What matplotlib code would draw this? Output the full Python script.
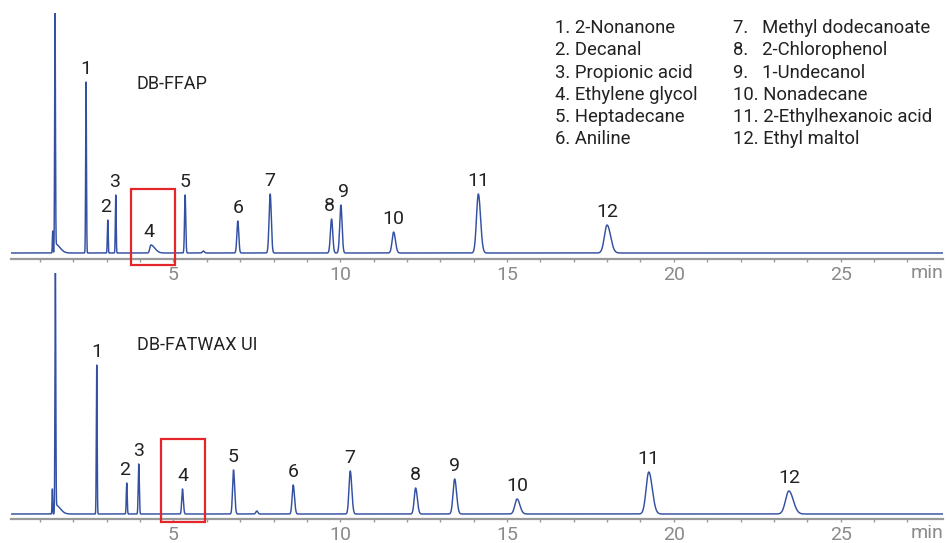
import matplotlib
matplotlib.use("Agg")
import matplotlib.pyplot as plt
import numpy as np
from matplotlib.patches import Rectangle

plt.rcParams["font.family"] = ["Roboto", "DejaVu Sans"]

# ---- peak tables (retention time in min, height in detector units) ----------
compounds = [
    "2-Nonanone", "Decanal", "Propionic acid", "Ethylene glycol",
    "Heptadecane", "Aniline", "Methyl dodecanoate", "2-Chlorophenol",
    "1-Undecanol", "Nonadecane", "2-Ethylhexanoic acid", "Ethyl maltol",
]
peak_ids = ["1", "2", "3", "4", "5", "6", "7", "8", "9", "10", "11", "12"]

ffap_rt = [2.38, 3.03, 3.27, 4.32, 5.35, 6.93, 7.90, 9.74, 10.02, 11.60, 14.14, 18.00]
ffap_height = [171, 33, 58, 8, 58, 32, 59, 34, 48, 21, 59, 28]
ffap_sigma = [0.012, 0.012, 0.012, 0.03, 0.018, 0.028, 0.033, 0.035, 0.035, 0.045, 0.055, 0.08]
ffap_tail = [1.0, 1.0, 1.0, 4.0, 1.0, 1.0, 1.0, 1.0, 1.0, 1.2, 1.2, 1.3]

fatwax_rt = [2.70, 3.60, 3.96, 5.27, 6.80, 8.59, 10.30, 12.26, 13.43, 15.30, 19.25, 23.45]
fatwax_height = [149, 31, 50, 25, 44, 29, 43, 26, 35, 15, 42, 23]
fatwax_sigma = [0.012, 0.014, 0.016, 0.022, 0.028, 0.032, 0.038, 0.042, 0.048, 0.065, 0.08, 0.1]
fatwax_tail = [1.0, 1.0, 1.0, 1.2, 1.2, 1.2, 1.2, 1.2, 1.2, 1.3, 1.3, 1.3]

# solvent front, its shoulder/tail and minor unlabelled bumps
ffap_extra_rt = [1.45, 1.38, 1.46, 5.90]
ffap_extra_height = [240, 22, 9, 2]
ffap_extra_sigma = [0.012, 0.01, 0.015, 0.03]
ffap_extra_tail = [1.0, 1.0, 9.0, 1.0]

fatwax_extra_rt = [1.46, 1.37, 1.47, 7.50]
fatwax_extra_height = [245, 25, 9, 3]
fatwax_extra_sigma = [0.012, 0.01, 0.015, 0.03]
fatwax_extra_tail = [1.0, 1.0, 9.0, 1.0]

T_MIN, T_MAX = 0.13, 28.07
LINE = "#3350a2"
GREY = "#8a8a8a"


def trace(t, rts, heights, sigmas, tails):
    y = np.zeros_like(t)
    for rt, h, s, k in zip(rts, heights, sigmas, tails):
        sd = np.where(t < rt, s, s * k)
        y += h * np.exp(-0.5 * ((t - rt) / sd) ** 2)
    return y


t = np.linspace(T_MIN, T_MAX, 30000)

fig = plt.figure(figsize=(9.47, 5.43), dpi=100)
ax_top = fig.add_axes([11 / 947, 1 - 259 / 543, 932 / 947, 246 / 543])
ax_bot = fig.add_axes([11 / 947, 1 - 519 / 543, 932 / 947, 246 / 543])
ax_bot.patch.set_alpha(0)

panels = [
    (ax_top, "DB-FFAP", -6, 240,
     (ffap_rt, ffap_height, ffap_sigma, ffap_tail),
     (ffap_extra_rt, ffap_extra_height, ffap_extra_sigma, ffap_extra_tail),
     {"8": -2, "9": 3, "2": -2, "3": -1, "4": -2},
     (3.72, 5.04, -12, 64)),
    (ax_bot, "DB-FATWAX UI", -5, 241,
     (fatwax_rt, fatwax_height, fatwax_sigma, fatwax_tail),
     (fatwax_extra_rt, fatwax_extra_height, fatwax_extra_sigma, fatwax_extra_tail),
     {"2": -2},
     (4.62, 5.94, -8, 75)),
]

for ax, name, y0, y1, peaks, extra, nudge, box in panels:
    y = trace(t, *peaks) + trace(t, *extra)
    ax.plot(t, y, color=LINE, lw=1.05)
    ax.set_xlim(T_MIN, T_MAX)
    ax.set_ylim(y0, y1)

    for sp in ("left", "right", "top"):
        ax.spines[sp].set_visible(False)
    ax.spines["bottom"].set_color("#9a9a9a")
    ax.spines["bottom"].set_linewidth(1.6)
    ax.set_yticks([])
    ax.set_xticks([5, 10, 15, 20, 25])
    ax.set_xticks(np.arange(1, 28), minor=True)
    ax.tick_params(axis="x", which="both", direction="out", length=2.5,
                   width=1, color="#9a9a9a", labelcolor=GREY,
                   labelsize=14, pad=2.5)
    ax.text(1.0, -0.058, "min", transform=ax.transAxes, ha="right", va="center",
            fontsize=14, color=GREY)

    ax.text(3.9, 169, name, fontsize=13, color="#222222", va="center")

    rts, hs = peaks[0], peaks[1]
    for lab, rt, h in zip(peak_ids, rts, hs):
        ax.annotate(lab, (rt, h), xytext=(nudge.get(lab, 0) * 0.72, 3),
                    textcoords="offset points", ha="center", va="bottom",
                    fontsize=14, color="#222222")

    bx0, bx1, by0, by1 = box
    ax.add_patch(Rectangle((bx0, by0), bx1 - bx0, by1 - by0, fill=False,
                           edgecolor="#e4262b", lw=1.6, clip_on=False, zorder=5))

# compound key
for i, nm in enumerate(compounds):
    col, row = divmod(i, 6)
    num = f"{i + 1}."
    if i in (6, 7, 8):
        num = num + "  "
    fig.text((555 + col * 178) / 947, 1 - (28 + row * 22.3) / 543,
             f"{num} {nm}", fontsize=13.3, color="#222222", va="center")

fig.savefig("out.png", dpi=100)
